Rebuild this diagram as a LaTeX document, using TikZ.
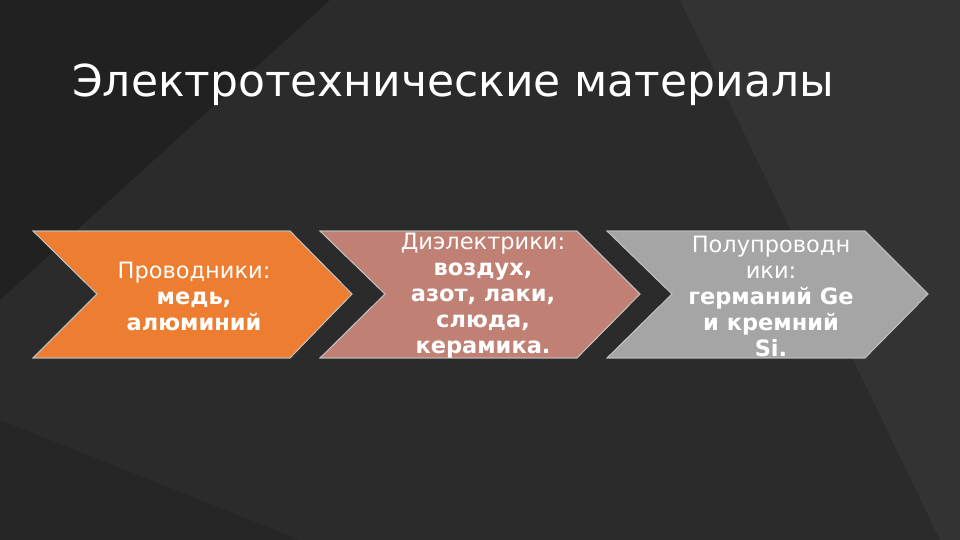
\documentclass[tikz,border=0pt]{standalone}
\usepackage{fontspec}
\setmainfont{DejaVu Sans}
\begin{document}
\begin{tikzpicture}[x=1pt,y=-1pt,
  chev/.style={draw=white!75!black, line width=0.8pt},
  lab/.style={text=white, align=center, font=\fontsize{22.5}{26}\selectfont, inner sep=0pt}]
\useasboundingbox (0,0) rectangle (960,540);
\fill[fill=black!83] (0,0) rectangle (960,540);
\fill[fill=black!87] (0,0) -- (330,0) -- (0,300) -- cycle;
\fill[fill=black!80] (680,0) -- (960,0) -- (960,540) -- (940,540) -- cycle;
\fill[fill=black!85] (0,420) -- (300,540) -- (0,540) -- cycle;
\node[anchor=west, text=white, font=\fontsize{44}{48}\selectfont, inner sep=0pt] (title) at (72,85) {Электротехнические материалы};
\fill[chev, fill={rgb,255:red,237;green,125;blue,49}] (33,231) -- (290,231) -- (352,294) -- (290,358) -- (33,358) -- (97,294) -- cycle;
\fill[chev, fill={rgb,255:red,192;green,128;blue,116}] (320,231) -- (577,231) -- (640,294) -- (577,358) -- (320,358) -- (385,294) -- cycle;
\fill[chev, fill={rgb,255:red,165;green,165;blue,165}] (607,231) -- (865,231) -- (928,294) -- (865,358) -- (607,358) -- (672,294) -- cycle;
\draw[chev] (33,231) -- (290,231) -- (352,294) -- (290,358) -- (33,358) -- (97,294) -- cycle;
\draw[chev] (320,231) -- (577,231) -- (640,294) -- (577,358) -- (320,358) -- (385,294) -- cycle;
\draw[chev] (607,231) -- (865,231) -- (928,294) -- (865,358) -- (607,358) -- (672,294) -- cycle;
\node[lab] (t1) at (194,296) {Проводники:\\\textbf{медь,}\\\textbf{алюминий}};
\node[lab] (t2) at (483,296) {Диэлектрики:\\\textbf{воздух,}\\\textbf{азот, лаки,}\\\textbf{слюда,}\\\textbf{керамика.}};
\node[lab] (t3) at (771,296) {Полупроводн\\ики:\\\textbf{германий Ge}\\\textbf{и кремний}\\\textbf{Si.}};
\end{tikzpicture}
\end{document}
